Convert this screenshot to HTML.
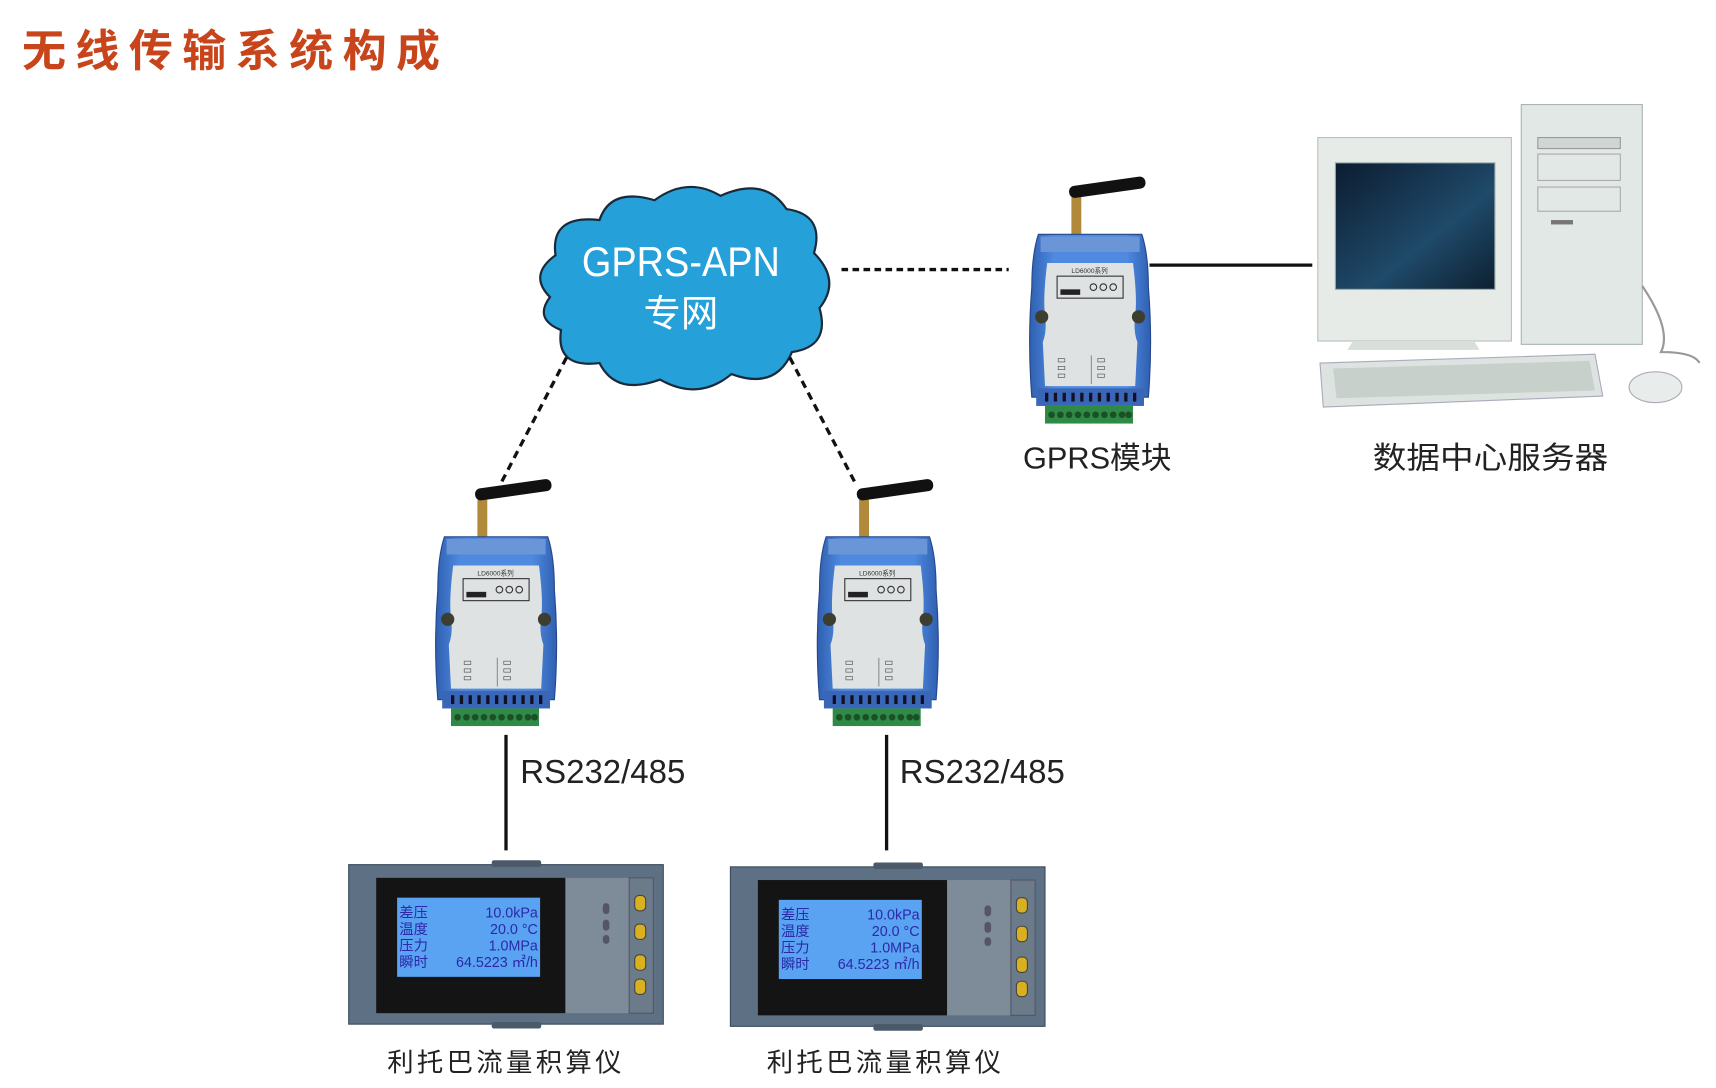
<!DOCTYPE html>
<html><head><meta charset="utf-8"><style>
html,body{margin:0;padding:0;background:#fff;width:1716px;height:1088px;overflow:hidden}
svg{display:block}
text{font-family:"Liberation Sans","Noto Sans CJK SC",sans-serif}
</style></head><body>
<svg width="1716" height="1088" viewBox="0 0 1560 989" xmlns="http://www.w3.org/2000/svg">
<defs>
<linearGradient id="blue" x1="0" x2="1"><stop offset="0" stop-color="#2f5fb0"/><stop offset="0.2" stop-color="#4f8ae0"/><stop offset="0.8" stop-color="#4f8ae0"/><stop offset="1" stop-color="#2f5fb0"/></linearGradient>
<linearGradient id="scr" x1="0" y1="0" x2="1" y2="1"><stop offset="0" stop-color="#0c1c30"/><stop offset="0.6" stop-color="#1f4a6a"/><stop offset="1" stop-color="#0d2030"/></linearGradient>
<g id="mod">
  <rect x="38" y="-32" width="9" height="34" fill="#b08a3a"/>
  <rect x="36" y="-42" width="70" height="11" rx="5" fill="#111" transform="rotate(-8 40 -36)"/>
  <path d="M8 2 L102 2 Q108 20 108 50 Q112 100 108 150 L2 150 Q-2 100 2 50 Q2 20 8 2Z" fill="url(#blue)" stroke="#25478a"/>
  <rect x="10" y="4" width="90" height="14" fill="#6a96d8"/>
  <path d="M16 28 L94 28 Q98 60 96 75 Q94 90 98 100 L96 140 L14 140 L12 100 Q16 90 14 75 Q12 60 16 28Z" fill="#dfe2e2"/>
  <circle cx="11" cy="77" r="6" fill="#3d3d30"/><circle cx="99" cy="77" r="6" fill="#3d3d30"/>
  <rect x="25" y="40" width="60" height="20" fill="none" stroke="#333" stroke-width="1"/>
  <text x="38" y="37" font-size="6" fill="#333">LD6000系列</text>
  <circle cx="58" cy="50" r="3" fill="none" stroke="#333"/><circle cx="67" cy="50" r="3" fill="none" stroke="#333"/><circle cx="76" cy="50" r="3" fill="none" stroke="#333"/>
  <rect x="28" y="52" width="18" height="5" fill="#222"/>
  <line x1="56" y1="112" x2="56" y2="138" stroke="#555" stroke-width="0.6"/>
  <g fill="none" stroke="#555" stroke-width="0.6"><rect x="26" y="115" width="6" height="3"/><rect x="26" y="122" width="6" height="3"/><rect x="26" y="129" width="6" height="3"/><rect x="62" y="115" width="6" height="3"/><rect x="62" y="122" width="6" height="3"/><rect x="62" y="129" width="6" height="3"/></g>
  <rect x="6" y="142" width="98" height="16" fill="#3a66b8"/>
  <g fill="#112" ><rect x="14" y="146" width="3" height="8"/><rect x="22" y="146" width="3" height="8"/><rect x="30" y="146" width="3" height="8"/><rect x="38" y="146" width="3" height="8"/><rect x="46" y="146" width="3" height="8"/><rect x="54" y="146" width="3" height="8"/><rect x="62" y="146" width="3" height="8"/><rect x="70" y="146" width="3" height="8"/><rect x="78" y="146" width="3" height="8"/><rect x="86" y="146" width="3" height="8"/><rect x="94" y="146" width="3" height="8"/></g>
  <rect x="14" y="158" width="80" height="16" fill="#2e8a45"/>
  <g fill="#1b4f28"><circle cx="20" cy="166" r="3"/><circle cx="28" cy="166" r="3"/><circle cx="36" cy="166" r="3"/><circle cx="44" cy="166" r="3"/><circle cx="52" cy="166" r="3"/><circle cx="60" cy="166" r="3"/><circle cx="68" cy="166" r="3"/><circle cx="76" cy="166" r="3"/><circle cx="84" cy="166" r="3"/><circle cx="90" cy="166" r="3"/></g>
</g>
<g id="meter">
  <rect x="0" y="0" width="286" height="145" fill="#5d7084" stroke="#3a4a5a"/>
  <rect x="130" y="-4" width="45" height="6" rx="2" fill="#4a5a6a"/>
  <rect x="130" y="143" width="45" height="6" rx="2" fill="#4a5a6a"/>
  <rect x="25" y="12" width="172" height="123" fill="#141414"/>
  <rect x="197" y="12" width="58" height="123" fill="#7d8c98"/>
  <rect x="255" y="12" width="22" height="123" fill="#6b7b89" stroke="#556"/>
  <rect x="44" y="30" width="130" height="72" fill="#5aa2f2"/>
  <g font-family="Liberation Mono,'Noto Sans CJK SC',monospace" font-size="13" fill="#2a2aa8">
    <text x="46" y="48">差压</text><text x="172" y="48" text-anchor="end">10.0kPa</text>
    <text x="46" y="63">温度</text><text x="172" y="63" text-anchor="end">20.0 °C</text>
    <text x="46" y="78">压力</text><text x="172" y="78" text-anchor="end">1.0MPa</text>
    <text x="46" y="93">瞬时</text><text x="172" y="93" text-anchor="end">64.5223 ㎡/h</text>
  </g>
  <g fill="#556"><rect x="231" y="35" width="6" height="10" rx="3"/><rect x="231" y="50" width="6" height="10" rx="3"/><rect x="231" y="64" width="6" height="8" rx="3"/></g>
  <g fill="#d8b020" stroke="#444" stroke-width="1"><rect x="260" y="28" width="10" height="14" rx="4"/><rect x="260" y="54" width="10" height="14" rx="4"/><rect x="260" y="82" width="10" height="14" rx="4"/><rect x="260" y="104" width="10" height="14" rx="4"/></g>
</g>
</defs>

<text x="20" y="60" font-size="40" font-weight="bold" fill="#c8441a" textLength="380" lengthAdjust="spacing">无线传输系统构成</text>

<path d="M500 270 Q480 250 505 232 Q500 195 545 200 Q555 170 595 182 Q625 160 655 178 Q695 160 715 190 Q750 195 740 230 Q765 255 745 280 Q755 315 720 320 Q705 355 665 340 Q635 365 600 345 Q560 360 545 330 Q505 335 510 300 Q485 290 500 270Z" fill="#25a0d8" stroke="#1a2a3a" stroke-width="2"/>
<text x="619" y="251" font-size="38" fill="#fff" text-anchor="middle" textLength="180" lengthAdjust="spacingAndGlyphs">GPRS-APN</text>
<text x="619" y="297" font-size="34" fill="#fff" text-anchor="middle">专网</text>

<line x1="765" y1="245" x2="917" y2="245" stroke="#111" stroke-width="3" stroke-dasharray="6,4"/>
<line x1="515" y1="325" x2="455" y2="440" stroke="#111" stroke-width="3" stroke-dasharray="7,5"/>
<line x1="718" y1="325" x2="778" y2="440" stroke="#111" stroke-width="3" stroke-dasharray="7,5"/>
<line x1="1045" y1="241" x2="1193" y2="241" stroke="#111" stroke-width="3"/>
<line x1="460" y1="668" x2="460" y2="773" stroke="#111" stroke-width="3"/>
<line x1="806" y1="668" x2="806" y2="773" stroke="#111" stroke-width="3"/>

<use href="#mod" x="936" y="211"/>
<use href="#mod" x="396" y="486"/>
<use href="#mod" x="743" y="486"/>

<rect x="1198" y="125" width="176" height="185" fill="#e6ebe8" stroke="#b8c0bc"/>
<rect x="1214" y="148" width="145" height="115" fill="url(#scr)" stroke="#9aa"/>
<path d="M1230 310 L1340 310 L1345 318 L1225 318Z" fill="#d8deda"/>
<rect x="1383" y="95" width="110" height="218" fill="#e2e8e6" stroke="#aab4b0"/>
<rect x="1398" y="125" width="75" height="10" fill="#d0d6d4" stroke="#999"/>
<rect x="1398" y="140" width="75" height="24" fill="none" stroke="#aaa"/>
<rect x="1398" y="170" width="75" height="22" fill="none" stroke="#aaa"/>
<rect x="1410" y="200" width="20" height="4" fill="#777"/>
<path d="M1200 330 L1450 322 L1457 360 L1203 370Z" fill="#dde3e0" stroke="#aab"/>
<path d="M1212 335 L1445 328 L1450 355 L1215 362Z" fill="#c8d0cc"/>
<ellipse cx="1505" cy="352" rx="24" ry="14" fill="#e8ecea" stroke="#aab"/>
<path d="M1493 260 Q1520 300 1510 320 Q1540 320 1545 330" fill="none" stroke="#999" stroke-width="2"/>

<use href="#meter" x="317" y="786"/>
<use href="#meter" x="664" y="788"/>

<g font-size="28" fill="#222">
<text x="930" y="426" textLength="135" lengthAdjust="spacingAndGlyphs">GPRS模块</text>
<text x="1248" y="426" textLength="214" lengthAdjust="spacingAndGlyphs">数据中心服务器</text>
<text x="473" y="712" font-size="30" textLength="150" lengthAdjust="spacingAndGlyphs">RS232/485</text>
<text x="818" y="712" font-size="30" textLength="150" lengthAdjust="spacingAndGlyphs">RS232/485</text>
</g>
<g font-size="24" fill="#222">
<text x="352" y="974" textLength="213" lengthAdjust="spacing">利托巴流量积算仪</text>
<text x="697" y="974" textLength="213" lengthAdjust="spacing">利托巴流量积算仪</text>
</g>
</svg>
</body></html>
